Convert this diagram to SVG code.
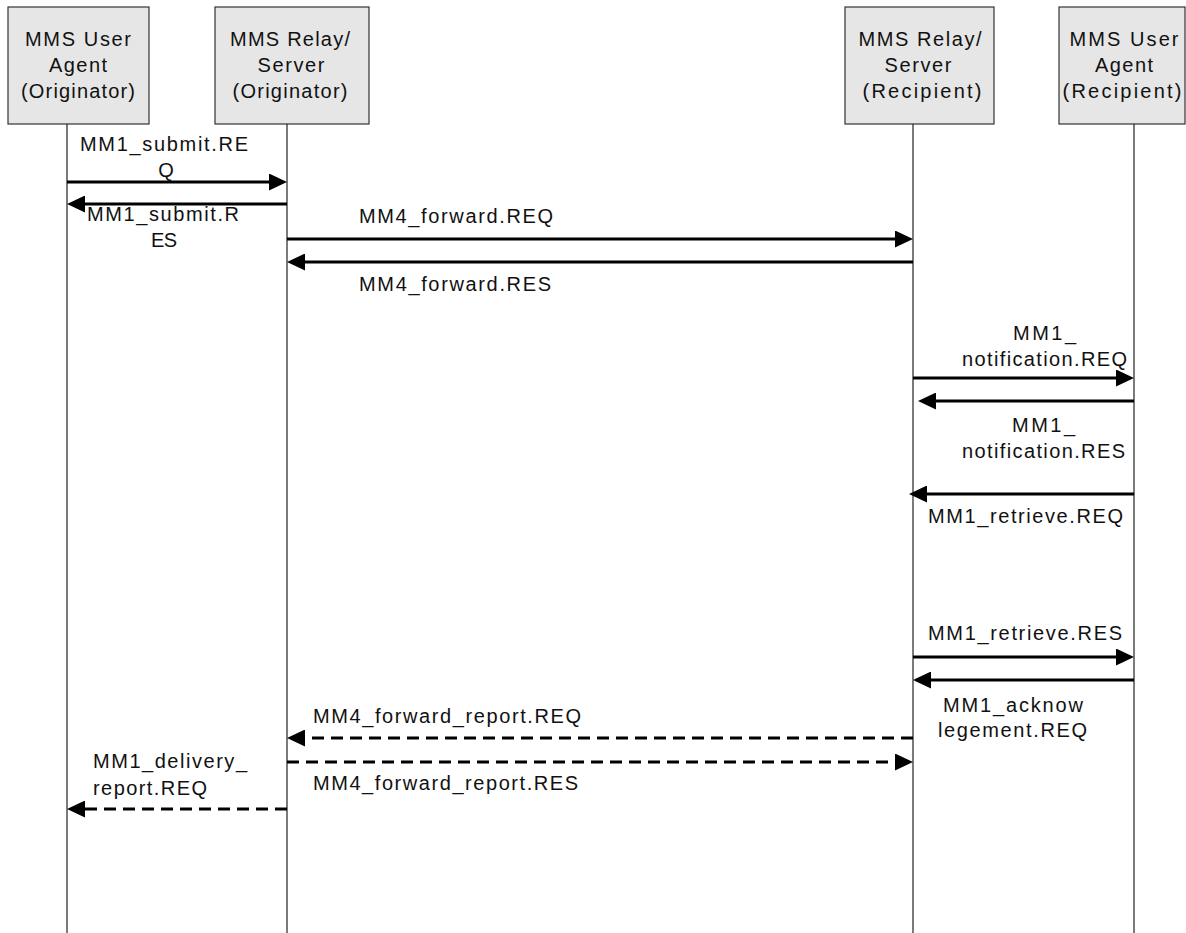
<svg xmlns="http://www.w3.org/2000/svg" width="1186" height="933" viewBox="0 0 1186 933">
<style>
.box{fill:#e6e6e6;stroke:#333;stroke-width:1.2}
.life{stroke:#222;stroke-width:1.2;fill:none}
.msg{stroke:#000;stroke-width:3;fill:none}
.dash{stroke-dasharray:12 7}
text{font-family:"Liberation Sans",Arial,sans-serif;font-size:20px;fill:#111}
.c{text-anchor:middle}
</style>
<defs>
<marker id="ah" markerUnits="userSpaceOnUse" markerWidth="18" markerHeight="17" refX="0" refY="8.5" orient="auto" viewBox="0 0 18 17">
<path d="M0,0 L18,8.5 L0,17 z" fill="#000"/>
</marker>
</defs>
<rect width="1186" height="933" fill="#fff"/>

<g id="ua-orig">
<rect class="box" x="8" y="7" width="141" height="117"/>
<text class="c" x="78" y="46" textLength="106" lengthAdjust="spacing">MMS User</text>
<text class="c" x="78" y="72" textLength="58" lengthAdjust="spacing">Agent</text>
<text class="c" x="78" y="98" textLength="114" lengthAdjust="spacing">(Originator)</text>
<line class="life" x1="67" y1="124" x2="67" y2="933"/>
</g>
<g id="rs-orig">
<rect class="box" x="215" y="7" width="154" height="117"/>
<text class="c" x="290" y="46" textLength="120" lengthAdjust="spacing">MMS Relay/</text>
<text class="c" x="291" y="72" textLength="67" lengthAdjust="spacing">Server</text>
<text class="c" x="290" y="98" textLength="115" lengthAdjust="spacing">(Originator)</text>
<line class="life" x1="287" y1="124" x2="287" y2="933"/>
</g>
<g id="rs-recip">
<rect class="box" x="845" y="7" width="149" height="117"/>
<text class="c" x="920" y="46" textLength="123" lengthAdjust="spacing">MMS Relay/</text>
<text class="c" x="918" y="72" textLength="67" lengthAdjust="spacing">Server</text>
<text class="c" x="922" y="98" textLength="119" lengthAdjust="spacing">(Recipient)</text>
<line class="life" x1="913" y1="124" x2="913" y2="933"/>
</g>
<g id="ua-recip">
<rect class="box" x="1059" y="7" width="126" height="117"/>
<text class="c" x="1124" y="46" textLength="109" lengthAdjust="spacing">MMS User</text>
<text class="c" x="1124" y="72" textLength="58" lengthAdjust="spacing">Agent</text>
<text class="c" x="1122" y="98" textLength="119" lengthAdjust="spacing">(Recipient)</text>
<line class="life" x1="1134" y1="124" x2="1134" y2="933"/>
</g>

<g id="connectors">
<line class="msg" x1="67" y1="182" x2="269" y2="182" marker-end="url(#ah)"/>
<line class="msg" x1="287" y1="204" x2="85" y2="204" marker-end="url(#ah)"/>
<line class="msg" x1="287" y1="239" x2="895" y2="239" marker-end="url(#ah)"/>
<line class="msg" x1="913" y1="262" x2="305" y2="262" marker-end="url(#ah)"/>
<line class="msg" x1="913" y1="378" x2="1116" y2="378" marker-end="url(#ah)"/>
<line class="msg" x1="1134" y1="401" x2="936" y2="401" marker-end="url(#ah)"/>
<line class="msg" x1="1134" y1="494" x2="927" y2="494" marker-end="url(#ah)"/>
<line class="msg" x1="913" y1="657" x2="1116" y2="657" marker-end="url(#ah)"/>
<line class="msg" x1="1134" y1="680" x2="931" y2="680" marker-end="url(#ah)"/>
<line class="msg dash" x1="913" y1="738" x2="305" y2="738" marker-end="url(#ah)"/>
<line class="msg dash" x1="287" y1="762" x2="895" y2="762" marker-end="url(#ah)"/>
<line class="msg dash" x1="287" y1="809" x2="85" y2="809" marker-end="url(#ah)"/>
</g>

<g id="labels">
<text x="80" y="151" textLength="168" lengthAdjust="spacing">MM1_submit.RE</text>
<text class="c" x="166" y="177">Q</text>
<text x="87" y="221" textLength="152" lengthAdjust="spacing">MM1_submit.R</text>
<text x="151" y="247" textLength="26" lengthAdjust="spacing">ES</text>
<text x="359" y="223" textLength="194" lengthAdjust="spacing">MM4_forward.REQ</text>
<text x="359" y="291" textLength="192" lengthAdjust="spacing">MM4_forward.RES</text>
<text x="1013" y="340" textLength="63" lengthAdjust="spacing">MM1_</text>
<text x="962" y="366" textLength="165" lengthAdjust="spacing">notification.REQ</text>
<text x="1012" y="432" textLength="63" lengthAdjust="spacing">MM1_</text>
<text x="962" y="458" textLength="163" lengthAdjust="spacing">notification.RES</text>
<text x="928" y="523" textLength="195" lengthAdjust="spacing">MM1_retrieve.REQ</text>
<text x="928" y="640" textLength="194" lengthAdjust="spacing">MM1_retrieve.RES</text>
<text x="943" y="712" textLength="140" lengthAdjust="spacing">MM1_acknow</text>
<text x="938" y="737" textLength="149" lengthAdjust="spacing">legement.REQ</text>
<text x="313" y="723" textLength="268" lengthAdjust="spacing">MM4_forward_report.REQ</text>
<text x="313" y="790" textLength="265" lengthAdjust="spacing">MM4_forward_report.RES</text>
<text x="93" y="768" textLength="154" lengthAdjust="spacing">MM1_delivery_</text>
<text x="93" y="795" textLength="114" lengthAdjust="spacing">report.REQ</text>
</g>
</svg>
